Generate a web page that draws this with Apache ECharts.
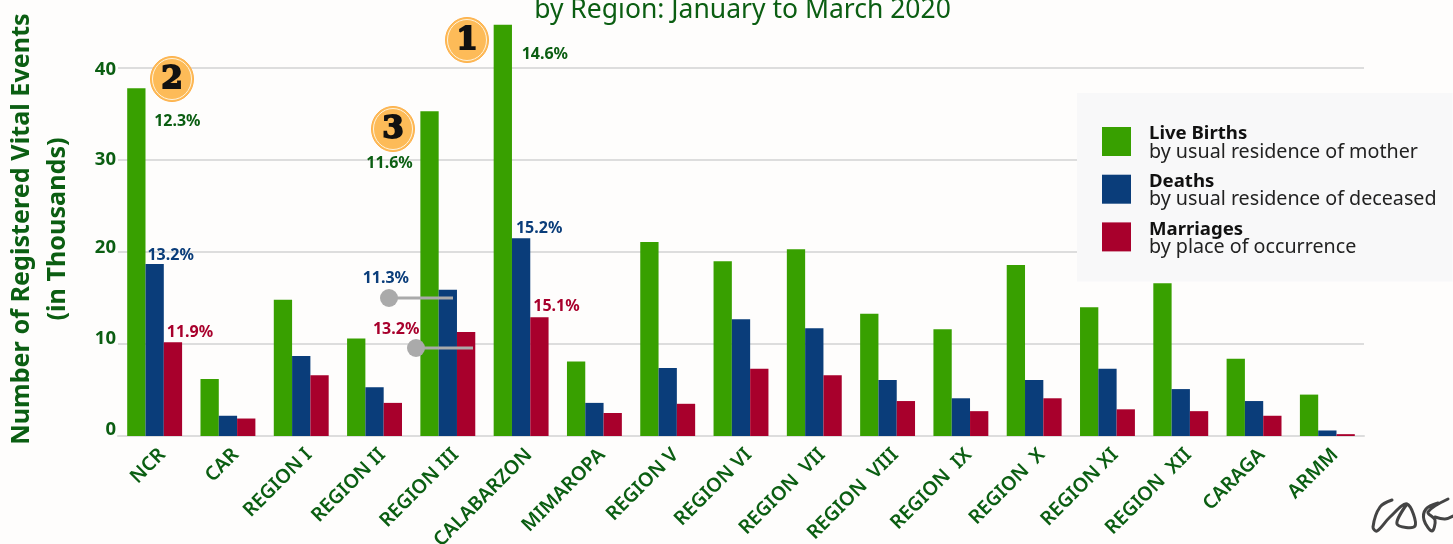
<!DOCTYPE html>
<html><head><meta charset="utf-8">
<style>html,body{margin:0;padding:0;background:#fefdfc}#c{width:1453px;height:544px}</style>
<script src="https://cdn.jsdelivr.net/npm/echarts@6/dist/echarts.min.js"></script>
</head><body><div id="c"></div>
<script>
const categories = ['NCR','CAR','REGION I','REGION II','REGION III','CALABARZON','MIMAROPA','REGION V','REGION VI','REGION  VII','REGION  VIII','REGION  IX','REGION  X','REGION XI','REGION  XII','CARAGA','ARMM'];
const liveBirths = [37.8,6.2,14.8,10.6,35.3,44.7,8.1,21.1,19.0,20.3,13.3,11.6,18.6,14.0,16.6,8.4,4.5];
const deaths     = [18.7,2.2,8.7,5.3,15.9,21.5,3.6,7.4,12.7,11.7,6.1,4.1,6.1,7.3,5.1,3.8,0.6];
const marriages  = [10.2,1.9,6.6,3.6,11.3,12.9,2.5,3.5,7.3,6.6,3.8,2.7,4.1,2.9,2.7,2.2,0.2];
const birthShares    = {NCR:'12.3%','REGION III':'11.6%',CALABARZON:'14.6%'};
const deathShares    = {NCR:'13.2%','REGION III':'11.3%',CALABARZON:'15.2%'};
const marriageShares = {NCR:'11.9%','REGION III':'13.2%',CALABARZON:'15.1%'};

const GREEN='#38a000', BLUE='#0a3d7a', RED='#a8002c', DARK='#0b5e12';
const FONT='"Noto Sans"';
const offsets = {
  b:{NCR:[41,46],'REGION III':[-40,65],CALABARZON:[42,43]},
  d:{NCR:[16,4],'REGION III':[-62,2],CALABARZON:[18,3]},
  m:{NCR:[17,3],'REGION III':[-70,10],CALABARZON:[17,2]}
};
function items(vals, shares, off, color){
  return vals.map((v,i)=>{
    const c=categories[i];
    if(!shares[c]) return v;
    return {value:v,label:{show:true,position:'top',distance:5,offset:off[c],formatter:shares[c],
      color,fontFamily:FONT,fontSize:16,fontWeight:700}};
  });
}
function series(name,vals,color,shares,off,lab){
  return {name,type:'bar',data:items(vals,shares,off,lab),barWidth:18.3,barGap:0,
    itemStyle:{color,borderWidth:0},silent:true,z:3};
}
const badge=(n,x,y)=>[
  {type:'ellipse',shape:{cx:x,cy:y,rx:21.5,ry:22.5},style:{fill:'#fdbb58',stroke:'#fdb04a',lineWidth:1},z:20},
  {type:'ellipse',shape:{cx:x,cy:y,rx:19.5,ry:20.5},style:{fill:'#fdbb58',stroke:'#fff3dc',lineWidth:1},z:20},
  {type:'text',x,y:y+1,z:21,style:{text:n,fill:'#111',stroke:'#111',lineWidth:1.8,font:'900 31px "DejaVu Serif"',align:'center',verticalAlign:'middle'}}
];
const pin=(x,x2,y)=>[
  {type:'line',shape:{x1:x,y1:y,x2:x2,y2:y},style:{stroke:'#aaaaaa',lineWidth:3},z:20},
  {type:'circle',shape:{cx:x,cy:y,r:9},style:{fill:'#aaaaaa'},z:20}
];
const scribble=pts=>({type:'polyline',z:20,shape:{points:pts,smooth:0.35},
  style:{fill:'none',stroke:'#444',lineWidth:3,lineCap:'round'}});
const tick=(pt,pb)=>({fontFamily:FONT,fontSize:18.5,fontWeight:700,color:DARK,padding:[pt,0,pb,0]});
const chart=echarts.init(document.getElementById('c'),null,{renderer:'canvas'});
chart.setOption({
  backgroundColor:'#fefdfc',animation:false,
  title:{text:'by Region: January to March 2020',left:737.5,top:-8,textAlign:'center',
    textStyle:{color:DARK,fontFamily:FONT,fontSize:26.5,fontWeight:400}},
  grid:{left:118,right:89,top:22,bottom:108,outerBoundsMode:'none'},
  xAxis:{type:'category',data:categories,
    axisLine:{lineStyle:{color:'#dddddd',width:2}},axisTick:{show:false},
    axisLabel:{interval:0,rotate:45,margin:8,verticalAlign:'top',lineHeight:22,color:DARK,fontFamily:FONT,fontSize:19.5,fontWeight:600}},
  yAxis:{type:'value',min:0,max:45,interval:10,
    name:'{a|Number of Registered Vital Events}\n{a|(in Thousands)}',nameLocation:'middle',nameGap:42,nameRotate:90,
    nameTextStyle:{rich:{a:{fontFamily:FONT,fontSize:25.2,fontWeight:700,color:DARK,lineHeight:36}}},
    axisLine:{show:false},axisTick:{show:false},
    axisLabel:{showMaxLabel:false,margin:2,formatter:v=>`{t${v}|${v}}`,
      rich:{t0:tick(0,12),t10:tick(0,10),t20:tick(0,8),t30:tick(0,0),t40:tick(4,0)}},
    splitLine:{showMaxLine:false,lineStyle:{color:'#dddddd',width:2}}},
  legend:{orient:'vertical',left:1077,top:93,padding:[27.5,16,24,25],backgroundColor:'#f8f8f9',
    itemWidth:29,itemHeight:29,itemGap:6.2,selectedMode:false,icon:'rect',
    data:['Live Births','Deaths','Marriages'],
    formatter:n=>`{h|${n}}\n{s|${({'Live Births':'by usual residence of mother','Deaths':'by usual residence of deceased','Marriages':'by place of occurrence'})[n]}}`,
    textStyle:{rich:{h:{fontFamily:FONT,fontSize:18.6,fontWeight:700,color:'#111',lineHeight:19,padding:[4,0,0,13]},
                     s:{fontFamily:FONT,fontSize:19.7,color:'#222',lineHeight:19,padding:[2,0,0,13]}}}},
  series:[
    series('Live Births',liveBirths,GREEN,birthShares,offsets.b,DARK),
    series('Deaths',deaths,BLUE,deathShares,offsets.d,BLUE),
    series('Marriages',marriages,RED,marriageShares,offsets.m,RED)
  ],
  graphic:[
    ...badge('1',467,40),...badge('2',172,79),...badge('3',393,129),
    ...pin(389,453,298),...pin(416,473,348),
    scribble([[1392,500],[1380,507],[1373,527],[1377,531],[1390,517],[1407,504],[1415,526],[1397,524],[1407,504]]),
    scribble([[1438,503],[1426,509],[1424,520],[1432,531],[1435,520],[1428,512],[1448,499]]),
    scribble([[1435,517],[1445,519],[1453,516]])
  ]
});
</script></body></html>
